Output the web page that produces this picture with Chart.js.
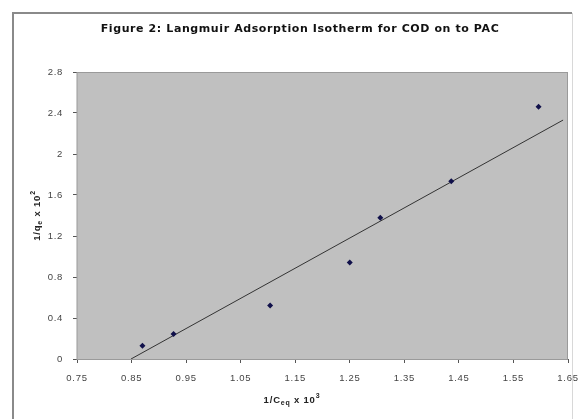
<!DOCTYPE html>
<html>
<head>
<meta charset="utf-8">
<script src="https://cdn.jsdelivr.net/npm/chart.js@4"></script>
<style>
  html, body { margin: 0; padding: 0; background: #fff; }
  #wrap { width: 579px; height: 419px; position: relative; }
</style>
</head>
<body>
<div id="wrap"><canvas id="isotherm"></canvas></div>
<script>
// values (1/Ceq x 10^3 vs 1/qe x 10^2)
const invCeq = [0.870, 0.927, 1.104, 1.250, 1.306, 1.436, 1.596];
const invQe = [0.130, 0.245, 0.521, 0.942, 1.379, 1.734, 2.462];
// linear trendline, ends as drawn in the figure
const trendX = [0.849, 1.641];
const trendY = [0, 2.331];
const xTicks = [0.75, 0.85, 0.95, 1.05, 1.15, 1.25, 1.35, 1.45, 1.55, 1.65];
const yTicks = [0, 0.4, 0.8, 1.2, 1.6, 2, 2.4, 2.8];

const FONT = 'Arial, "Liberation Sans", sans-serif';

// page frame, title and axis titles (these need sub/superscripts)
const decor = {
  id: 'decor',
  beforeDraw(chart) {
    const ctx = chart.ctx;
    ctx.save();
    ctx.fillStyle = '#fff';
    ctx.fillRect(0, 0, chart.width, chart.height);
    ctx.strokeStyle = '#8a8a8a';
    ctx.lineWidth = 2;
    ctx.beginPath();
    ctx.moveTo(13, 430);
    ctx.lineTo(13, 13);
    ctx.lineTo(572, 13);
    ctx.stroke();
    ctx.strokeStyle = '#d8d8d8';
    ctx.lineWidth = 1;
    ctx.beginPath();
    ctx.moveTo(572.5, 13);
    ctx.lineTo(572.5, 430);
    ctx.stroke();
    ctx.restore();
    // the old spreadsheet text is widely spaced
    ctx.letterSpacing = '0.7px';
  },
  afterDraw(chart) {
    const ctx = chart.ctx;
    const a = chart.chartArea;
    ctx.save();
    ctx.fillStyle = '#111';
    ctx.font = 'bold 11px "DejaVu Sans", sans-serif';
    ctx.letterSpacing = '0.6px';
    ctx.textAlign = 'center';
    ctx.textBaseline = 'middle';
    ctx.fillText('Figure 2: Langmuir Adsorption Isotherm for COD on to PAC', 300, 29);

    ctx.letterSpacing = '0.8px';
    // x axis title
    drawRich(ctx, [['1/C', 0], ['eq', 1], [' x 10', 0], ['3', -1]], 292, 400);
    // y axis title, rotated
    ctx.translate(37, (a.top + a.bottom) / 2);
    ctx.rotate(-Math.PI / 2);
    drawRich(ctx, [['1/q', 0], ['e', 1], [' x 10', 0], ['2', -1]], 0, 0);
    ctx.restore();
  }
};

function drawRich(ctx, parts, cx, cy) {
  const big = 'bold 9.5px ' + FONT;
  const small = 'bold 7px ' + FONT;
  let w = 0;
  parts.forEach(p => {
    ctx.font = p[1] ? small : big;
    w += ctx.measureText(p[0]).width;
  });
  let x = cx - w / 2;
  ctx.textAlign = 'left';
  ctx.textBaseline = 'middle';
  ctx.fillStyle = '#222';
  parts.forEach(p => {
    ctx.font = p[1] ? small : big;
    ctx.fillText(p[0], x, cy + p[1] * 3.5);
    x += ctx.measureText(p[0]).width;
  });
}

// grey plot area like the spreadsheet chart
const plotBg = {
  id: 'plotBg',
  beforeDatasetsDraw(chart) {
    const a = chart.chartArea;
    const ctx = chart.ctx;
    ctx.save();
    ctx.fillStyle = '#c0c0c0';
    ctx.fillRect(a.left, a.top, a.right - a.left, a.bottom - a.top);
    ctx.strokeStyle = '#9a9a9a';
    ctx.lineWidth = 1;
    ctx.strokeRect(a.left, a.top + 0.5, a.right - a.left - 0.5, a.bottom - a.top);
    ctx.restore();
  }
};

new Chart(document.getElementById('isotherm'), {
  type: 'scatter',
  data: {
    datasets: [{
      label: 'Langmuir',
      data: invCeq.map((x, i) => ({ x: x, y: invQe[i] })),
      pointStyle: 'rectRot',
      pointRadius: 3,
      backgroundColor: '#10104a',
      borderColor: '#10104a',
      borderWidth: 0,
      order: 1
    }, {
      label: 'Linear',
      type: 'line',
      data: trendX.map((x, i) => ({ x: x, y: trendY[i] })),
      borderColor: '#333',
      borderWidth: 1,
      pointRadius: 0,
      fill: false,
      order: 2
    }]
  },
  options: {
    responsive: true,
    maintainAspectRatio: false,
    animation: false,
    layout: { padding: { left: 0, top: 72, right: 11, bottom: 0 } },
    plugins: {
      legend: { display: false },
      tooltip: { enabled: false }
    },
    scales: {
      x: {
        type: 'linear',
        min: xTicks[0],
        max: xTicks[xTicks.length - 1],
        afterBuildTicks: s => { s.ticks = xTicks.map(v => ({ value: v })); },
        afterFit: s => { s.height = 60; s.paddingLeft = 0; s.paddingRight = 0; },
        border: { color: '#555', width: 1 },
        grid: { drawOnChartArea: false, tickLength: 4, color: '#555' },
        ticks: {
          color: '#444',
          font: { family: FONT, size: 9.5 },
          padding: 10,
          maxRotation: 0,
          callback: v => v.toFixed(2)
        }
      },
      y: {
        type: 'linear',
        min: yTicks[0],
        max: yTicks[yTicks.length - 1],
        afterBuildTicks: s => { s.ticks = yTicks.map(v => ({ value: v })); },
        afterFit: s => { s.width = 77; s.paddingTop = 0; s.paddingBottom = 0; },
        border: { color: '#555', width: 1 },
        grid: { drawOnChartArea: false, tickLength: 4, color: '#555' },
        ticks: {
          color: '#444',
          font: { family: FONT, size: 9.5 },
          padding: 10,
          callback: v => String(Number(v.toFixed(1)))
        }
      }
    }
  },
  plugins: [decor, plotBg]
});
</script>
</body>
</html>
